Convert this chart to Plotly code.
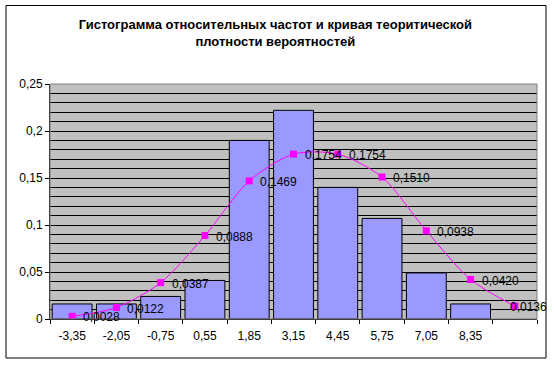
import plotly.graph_objects as go

categories = ["-3,35", "-2,05", "-0,75", "0,55", "1,85", "3,15", "4,45", "5,75", "7,05", "8,35", " "]
bar_values = [0.016, 0.016, 0.024, 0.041, 0.190, 0.222, 0.140, 0.107, 0.049, 0.016, None]
curve_values = [0.0028, 0.0122, 0.0387, 0.0888, 0.1469, 0.1754, 0.1754, 0.1510, 0.0938, 0.0420, 0.0136]
title_lines = ["Гистограмма относительных частот и кривая теоритической", "плотности вероятностей"]

curve_labels = [f"{v:.4f}".replace(".", ",") for v in curve_values]

FONT = "Liberation Sans, Arial, sans-serif"

fig = go.Figure()
fig.add_trace(go.Bar(
    x=categories, y=bar_values,
    marker=dict(color="#9999FF", line=dict(color="black", width=1)),
    hoverinfo="skip",
))
fig.add_trace(go.Scatter(
    x=categories, y=curve_values,
    mode="lines+markers",
    line=dict(color="#FF00FF", width=1, shape="spline", smoothing=0.8),
    marker=dict(symbol="square", size=7, color="#FF00FF"),
    cliponaxis=False,
))

# data labels, placed right of each point (last one nudged left to stay inside the chart)
annotations = []
for i, (c, v, t) in enumerate(zip(categories, curve_values, curve_labels)):
    last = i == len(categories) - 1
    annotations.append(dict(
        x=c, y=v, xref="x", yref="y", text=t, showarrow=False,
        xanchor="left", yanchor="middle",
        xshift=-7 if last else 9, yshift=-1,
        font=dict(family=FONT, size=12, color="black"),
    ))

L, R, T, B = 50, 17, 84, 46
W, H = 554, 365
pw, ph = W - L - R, H - T - B

def px_x(x):
    return (x - L) / pw

def px_y(y):
    return 1 - (y - T) / ph

fig.update_layout(
    width=W, height=H,
    margin=dict(l=L, r=R, t=T, b=B, autoexpand=False),
    paper_bgcolor="white",
    plot_bgcolor="#C0C0C0",
    separators=", ",
    showlegend=False,
    bargap=0.1,
    font=dict(family=FONT, size=12, color="black"),
    title=dict(
        text="<b>" + title_lines[0] + "<br>" + title_lines[1] + "</b>",
        x=0.497, xref="container", xanchor="center",
        y=1 - 29 / H, yanchor="middle",
        font=dict(family=FONT, size=13, color="black"),
    ),
    xaxis=dict(
        type="category",
        range=[-0.5, len(categories) - 0.5],
        tickson="boundaries",
        ticks="outside", ticklen=4, tickcolor="black",
        ticklabelstandoff=6,
        showgrid=False,
        showline=True, linecolor="black", linewidth=1,
        tickfont=dict(family=FONT, size=12),
        fixedrange=True,
    ),
    yaxis=dict(
        range=[0, 0.25],
        tickvals=[0, 0.05, 0.1, 0.15, 0.2, 0.25],
        ticks="outside", ticklen=4, tickcolor="black",
        showgrid=True, gridcolor="black", gridwidth=1,
        minor=dict(dtick=0.01, showgrid=True, gridcolor="black", gridwidth=1, ticks=""),
        showline=True, linecolor="black", linewidth=1,
        zeroline=False,
        tickfont=dict(family=FONT, size=12),
        fixedrange=True,
    ),
    annotations=annotations,
    shapes=[
        dict(type="rect", xref="paper", yref="paper",
             x0=0, x1=1, y0=0, y1=1,
             line=dict(color="#808080", width=1), layer="above"),
        dict(type="rect", xref="paper", yref="paper",
             x0=px_x(6), x1=px_x(546), y0=px_y(358), y1=px_y(5.5),
             line=dict(color="black", width=1)),
    ],
)

fig.write_html(
    "out.html",
    config={"displayModeBar": False},
    post_script="document.body.style.margin='0';document.body.style.overflow='hidden';",
)
